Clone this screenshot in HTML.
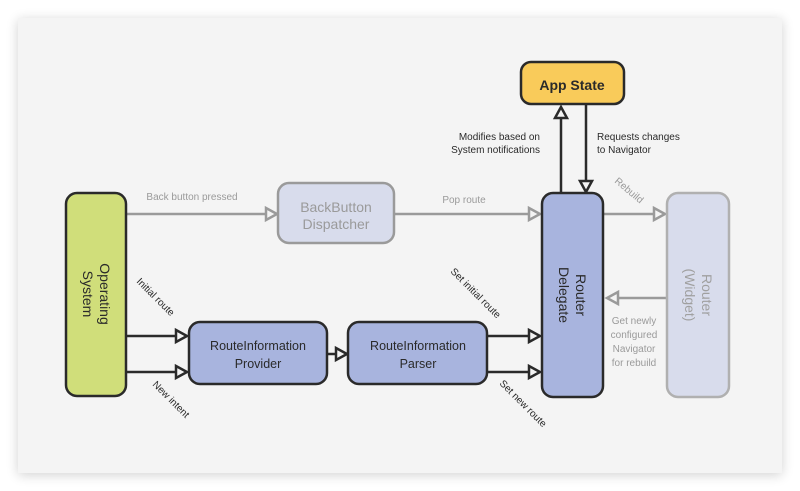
<!DOCTYPE html>
<html><head><meta charset="utf-8"><style>
html,body{margin:0;padding:0;background:#fff;}
svg{display:block;}
text{font-family:"Liberation Sans",sans-serif;}
</style></head><body>
<svg width="800" height="491" viewBox="0 0 800 491" xmlns="http://www.w3.org/2000/svg">
<defs>
<filter id="sh" x="-10%" y="-10%" width="120%" height="120%"><feGaussianBlur stdDeviation="6"/></filter>
</defs>
<rect x="18" y="20" width="764" height="455" fill="#000" opacity="0.18" filter="url(#sh)"/>
<rect x="18" y="18" width="764" height="455" fill="#f4f4f4"/>

<!-- grey connectors -->
<g stroke="#9a9a9a" stroke-width="2.5" fill="#f4f4f4">
<line x1="126" y1="214" x2="266" y2="214"/>
<path d="M266 208 L277 214 L266 220 Z"/>
<line x1="394" y1="214" x2="529" y2="214"/>
<path d="M529 208 L540 214 L529 220 Z"/>
<line x1="603" y1="214" x2="654" y2="214"/>
<path d="M654 208 L665 214 L654 220 Z"/>
<line x1="667" y1="298" x2="618" y2="298"/>
<path d="M618 292 L607 298 L618 304 Z"/>
</g>

<!-- dark connectors -->
<g stroke="#2a2a2a" stroke-width="2.5" fill="#f4f4f4">
<line x1="126" y1="336" x2="176" y2="336"/>
<path d="M176 330 L187 336 L176 342 Z"/>
<line x1="126" y1="372" x2="176" y2="372"/>
<path d="M176 366 L187 372 L176 378 Z"/>
<line x1="327" y1="354" x2="336" y2="354"/>
<path d="M336 348 L347 354 L336 360 Z"/>
<line x1="487" y1="336" x2="529" y2="336"/>
<path d="M529 330 L540 336 L529 342 Z"/>
<line x1="487" y1="372" x2="529" y2="372"/>
<path d="M529 366 L540 372 L529 378 Z"/>
<line x1="561" y1="193" x2="561" y2="118"/>
<path d="M555 118 L561 107 L567 118 Z"/>
<line x1="586" y1="104" x2="586" y2="181"/>
<path d="M580 181 L586 192 L592 181 Z"/>
</g>

<!-- boxes -->
<rect x="66" y="193" width="60" height="203" rx="11" fill="#d0de7a" stroke="#2a2a2a" stroke-width="2.5"/>
<rect x="278" y="183" width="116" height="60" rx="11" fill="#d8dcec" stroke="#9a9a9a" stroke-width="2.5"/>
<rect x="521" y="62" width="103" height="42" rx="10" fill="#f9cb5a" stroke="#2a2a2a" stroke-width="2.5"/>
<rect x="542" y="193" width="61" height="204" rx="11" fill="#a8b4de" stroke="#2a2a2a" stroke-width="2.5"/>
<rect x="667" y="193" width="62" height="204" rx="11" fill="#d8dcec" stroke="#b0b0b0" stroke-width="2.5"/>
<rect x="189" y="322" width="138" height="62" rx="11" fill="#a8b4de" stroke="#2a2a2a" stroke-width="2.5"/>
<rect x="348" y="322" width="139" height="62" rx="11" fill="#a8b4de" stroke="#2a2a2a" stroke-width="2.5"/>

<!-- box labels -->
<g font-size="12.5" text-anchor="middle" fill="#2a2a2a">
<text x="572" y="90" font-size="14" font-weight="bold">App State</text>
<text x="258" y="350">RouteInformation</text>
<text x="258" y="368">Provider</text>
<text x="418" y="350">RouteInformation</text>
<text x="418" y="368">Parser</text>
<text x="336" y="212" font-size="14" fill="#9a9a9a">BackButton</text>
<text x="336" y="229" font-size="14" fill="#9a9a9a">Dispatcher</text>
<g transform="translate(96,294) rotate(90)" font-size="14"><text x="0" y="-4">Operating</text><text x="0" y="13">System</text></g>
<g transform="translate(572,295) rotate(90)" font-size="14"><text x="0" y="-4">Router</text><text x="0" y="13">Delegate</text></g>
<g transform="translate(698,295) rotate(90)" font-size="14" fill="#a0a0a0"><text x="0" y="-4">Router</text><text x="0" y="13">(Widget)</text></g>
</g>

<!-- connector labels -->
<g font-size="10" fill="#2a2a2a">
<text x="192" y="200" fill="#9a9a9a" text-anchor="middle">Back button pressed</text>
<text x="464" y="203" fill="#9a9a9a" text-anchor="middle">Pop route</text>
<text x="540" y="140" text-anchor="end">Modifies based on</text>
<text x="540" y="153" text-anchor="end">System notifications</text>
<text x="597" y="140">Requests changes</text>
<text x="597" y="153">to Navigator</text>
<text transform="translate(614,182) rotate(40)" fill="#9a9a9a">Rebuild</text>
<g fill="#9a9a9a" text-anchor="middle">
<text x="634" y="324">Get newly</text>
<text x="634" y="338">configured</text>
<text x="634" y="352">Navigator</text>
<text x="634" y="366">for rebuild</text>
</g>
<text transform="translate(136,282) rotate(45)">Initial route</text>
<text transform="translate(152,385) rotate(45)">New intent</text>
<text transform="translate(450,272) rotate(45)">Set initial route</text>
<text transform="translate(499,384) rotate(45)">Set new route</text>
</g>
</svg>
</body></html>
